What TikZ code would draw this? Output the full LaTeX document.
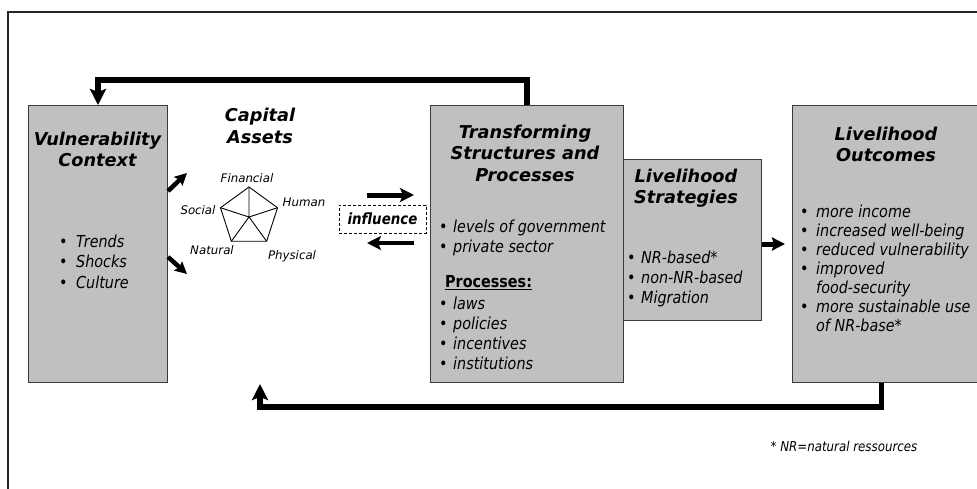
\documentclass[tikz,border=0pt]{standalone}
\usepackage{fontspec}
\setmainfont{DejaVu Sans}
\newfontfamily\narrowfont{DejaVu Sans}[FakeStretch=0.87]
\usetikzlibrary{arrows.meta,calc}
\definecolor{boxfill}{HTML}{C0C0C0}
\definecolor{boxline}{HTML}{3A3A3A}
\newcommand{\bl}[1][13pt]{\makebox[#1][l]{\upshape •}}
\begin{document}
\begin{tikzpicture}[x=1pt,y=-1pt,
  box/.style={draw=boxline, fill=boxfill, line width=1pt, inner sep=0pt, anchor=north west},
  ttl/.style={font=\fontsize{17.7}{21.8}\selectfont\bfseries\itshape, align=center, inner sep=0pt, anchor=north},
  lst/.style={font=\narrowfont\fontsize{16.5}{20}\selectfont\itshape, align=left, inner sep=0pt, anchor=north west},
  lbl/.style={font=\fontsize{11.8}{14}\selectfont\itshape, inner sep=0pt},
  fat/.style={line width=5.2pt, -{Stealth[length=16pt,width=16pt,inset=3pt]}},
  mid/.style={line width=5pt, -{Stealth[length=14pt,width=14pt,inset=3pt]}},
  pent/.style={line width=0.9pt},
]
\useasboundingbox (0,0) rectangle (977,488);
% frame
\draw[line width=1.2pt, black!85] (8,490) -- (8,12) -- (980,12);

% boxes
\node[box, minimum width=139pt, minimum height=277pt] (vul) at (28,105) {};
\node[box, minimum width=193pt, minimum height=277pt] (trans) at (430,105) {};
\node[box, minimum width=138pt, minimum height=161pt] (strat) at (623,159) {};
\node[box, minimum width=190pt, minimum height=277pt] (out) at (792,105) {};

% titles
\node[ttl] (vult) at (97.5,131.5) {Vulnerability\\Context};
\node[ttl] (capt) at (260,108) {Capital\\Assets};
\node[ttl] (transt) at (525,124.5) {Transforming\\Structures and\\Processes};
\node[ttl] (stratt) at (686,168.5) {Livelihood\\Strategies};
\node[ttl] (outt) at (886,126.5) {Livelihood\\Outcomes};

% lists
\node[lst, font=\narrowfont\fontsize{16.5}{20.5}\selectfont\itshape] (vull) at (59,234.5) {\bl[17pt]Trends\\\bl[17pt]Shocks\\\bl[17pt]Culture};
\node[lst] (transl) at (439,219.5) {\bl[14pt]levels of government\\\bl[14pt]private sector};
\node[lst, font=\narrowfont\fontsize{16.5}{20}\selectfont\bfseries] (proc) at (445,275) {\underline{Processes:}};
\node[lst] (procl) at (439,296.5) {\bl[14pt]laws\\\bl[14pt]policies\\\bl[14pt]incentives\\\bl[14pt]institutions};
\node[lst] (stratl) at (627,250.5) {\bl[14pt]NR-based*\\\bl[14pt]non-NR-based\\\bl[14pt]Migration};
\node[lst, font=\narrowfont\fontsize{16.5}{19}\selectfont\itshape] (outl) at (800,204.5) {\bl[16pt]more income\\\bl[16pt]increased well-being\\\bl[16pt]reduced vulnerability\\\bl[16pt]improved\\\hspace*{16pt}food-security\\\bl[16pt]more sustainable use\\\hspace*{16pt}of NR-base*};

% pentagon
\coordinate (pc) at (249,217);
\coordinate (pa) at ($(pc)+(-90:30)$);
\coordinate (pb) at ($(pc)+(-18:30)$);
\coordinate (pd) at ($(pc)+(54:30)$);
\coordinate (pe) at ($(pc)+(126:30)$);
\coordinate (pf) at ($(pc)+(198:30)$);
\draw[pent] (pa) -- (pb) -- (pd) -- (pe) -- (pf) -- cycle;
\draw[pent] (pc) -- (pa) (pc) -- (pb) (pc) -- (pd) (pc) -- (pe) (pc) -- (pf);
\node[lbl] (fin) at (247,178) {Financial};
\node[lbl] (hum) at (304,202) {Human};
\node[lbl] (soc) at (198,210) {Social};
\node[lbl] (nat) at (212,250) {Natural};
\node[lbl] (phy) at (292,256) {Physical};

% influence
\node[draw, dashed, dash pattern=on 3pt off 2pt, line width=1pt, minimum width=87pt, minimum height=28pt, inner sep=0pt,
      font=\narrowfont\fontsize{15.4}{18}\selectfont\bfseries\itshape] (inf) at (382.5,219) {influence};
\coordinate (i1a) at (367,195);
\coordinate (i1b) at (414,195);
\coordinate (i2a) at (414,243);
\coordinate (i2b) at (367,243);
\draw[mid] (i1a) -- (i1b);
\draw[mid, line width=4pt] (i2a) -- (i2b);

% small arrows from vulnerability
\coordinate (va) at (187,173);
\coordinate (vb) at (187,274);
\draw[mid, line width=4.5pt, -{Stealth[length=12pt,width=12pt,inset=2pt]}] (vul.east |- 0,191) -- (va);
\draw[mid, line width=4.5pt, -{Stealth[length=12pt,width=12pt,inset=2pt]}] (vul.east |- 0,257) -- (vb);

% strategies -> outcomes
\draw[mid, line width=5pt, -{Stealth[length=13pt,width=13pt,inset=2pt]}, shorten >=7pt] (strat.east |- 0,244) -- (out.west |- 0,244);

% feedback loops
\draw[fat] (trans.north) -- ++(0,-25) -| (vul.north);
\coordinate (ret) at (260,384);
\draw[fat] ([xshift=-6pt]out.south) -- ++(0,24) -| (ret);

% footnote
\node[lbl, font=\narrowfont\fontsize{13.6}{16}\selectfont\itshape] (fn) at (844,446) {* NR=natural ressources};
\end{tikzpicture}
\end{document}
